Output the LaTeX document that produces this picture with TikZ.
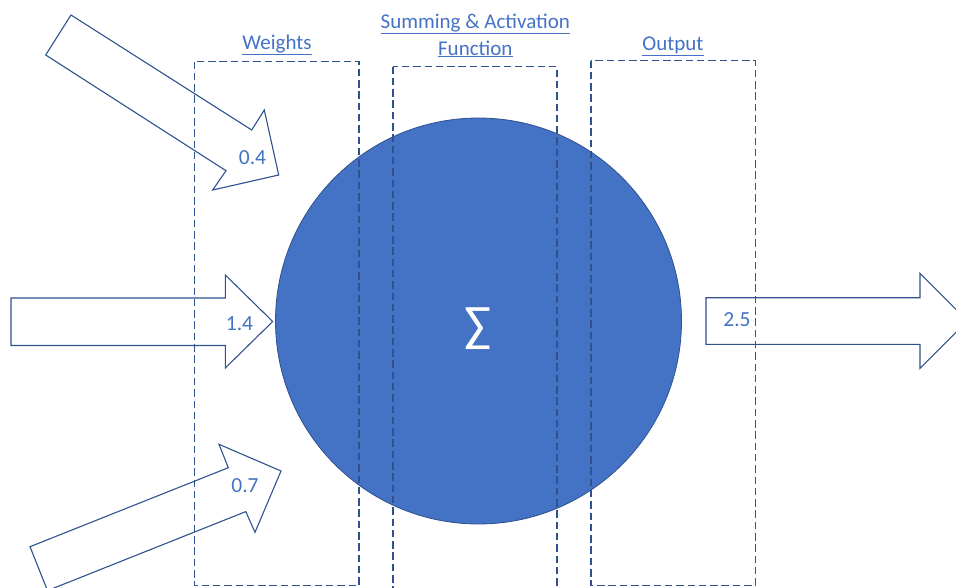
\documentclass[tikz,border=0pt]{standalone}
\usepackage{fontspec}
\setmainfont{Carlito}
\definecolor{accent}{HTML}{4472C4}
\definecolor{darkline}{HTML}{2F528F}
\begin{document}
\begin{tikzpicture}[x=1pt,y=-1pt,
  blockarrow/.style={draw=darkline, line width=1.1pt, fill=white, line join=miter},
  groupbox/.style={draw=darkline, line width=1.9pt, dash pattern=on 7.5pt off 3.8pt},
  heading/.style={text=accent, font=\fontsize{21}{26.5}\selectfont, inner sep=0pt, align=center},
  weightlabel/.style={text=accent, font=\fontsize{21.5}{25}\selectfont, inner sep=0pt, anchor=base}]
\useasboundingbox (0,0) rectangle (956,587);
\clip (0,0) rectangle (956,587);
% neuron
\node[circle, draw=darkline, line width=0.8pt, fill=accent, minimum size=406pt, inner sep=0pt] (neuron) at (478.5,321) {};
\node[text=white, font=\fontsize{50}{52}\selectfont, inner sep=0pt] (sigma) at (478.5,329) {∑};
% input arrows
\draw[blockarrow] (71,15) -- (251.7,130) -- (264.3,110) -- (278.7,175) -- (212.7,190) -- (226,170.7) -- (45.7,55) -- cycle;
\draw[blockarrow] (11,298) -- (225.3,298) -- (225.3,275) -- (272.7,321.5) -- (225.3,368) -- (225.3,345.5) -- (11,345.5) -- cycle;
\draw[blockarrow] (30,546.7) -- (228.3,467.7) -- (219,444.3) -- (281,471) -- (255,532.3) -- (245.8,511.6) -- (47.5,590.6) -- cycle;
% output arrow
\draw[blockarrow] (706,297.7) -- (920,297.7) -- (920,273.3) -- (967.5,321) -- (920,368.3) -- (920,344.3) -- (706,344.3) -- cycle;
% labels on arrows
\node[weightlabel] (w1) at (252.5,164) {0.4};
\node[weightlabel] (w2) at (239.5,330) {1.4};
\node[weightlabel] (w3) at (245,492.5) {0.7};
\node[weightlabel] (out) at (737,326.7) {2.5};
% dashed group boxes
\draw[groupbox] (194.5,61.5) rectangle (359,585.5);
\draw[groupbox] (393,66.5) rectangle (557,600);
\draw[groupbox] (591,60.5) rectangle (755.5,585.5);
% headings
\node[heading, anchor=base] (hw) at (277,49.5) {\underline{Weights}};
\node[heading, anchor=base] (hs) at (475.3,28.3) {\underline{Summing \& Activation}};
\node[heading, anchor=base] (hf) at (475.3,55) {\underline{Function}};
\node[heading, anchor=base] (ho) at (673,50) {\underline{Output}};
\end{tikzpicture}
\end{document}
